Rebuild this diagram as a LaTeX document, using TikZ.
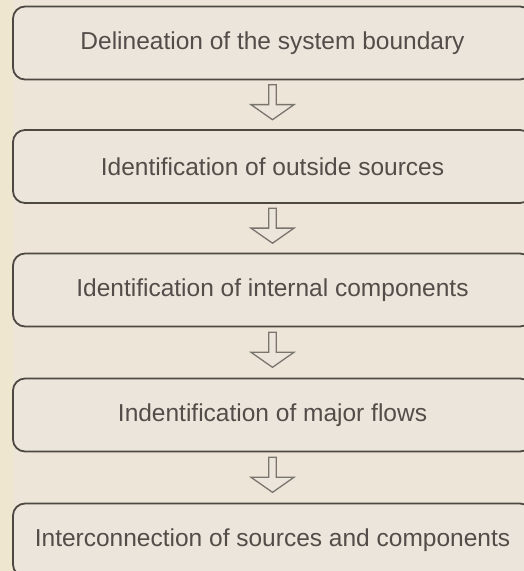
\documentclass[tikz,border=0pt]{standalone}
\usepackage{fontspec}
\setmainfont{Liberation Sans}
\usetikzlibrary{shapes.arrows}
\definecolor{bgbeige}{HTML}{ECE5D8}
\definecolor{stripbeige}{HTML}{EFE6D0}
\definecolor{boxfill}{HTML}{EBE5DB}
\definecolor{boxline}{HTML}{4E4843}
\definecolor{textgray}{HTML}{524D49}
\definecolor{arrowgray}{HTML}{7A746E}
\tikzset{
  stepbox/.style={draw=boxline, line width=1.8pt, fill=boxfill, rounded corners=12pt,
    minimum width=519pt, minimum height=73pt, inner sep=0pt, text=textgray,
    font=\fontsize{24.5}{28}\selectfont},
  flowarrow/.style={single arrow, draw=arrowgray, line width=1.3pt, fill=boxfill,
    shape border rotate=270, minimum width=43pt, minimum height=35pt,
    single arrow head extend=3pt, single arrow tip angle=110, inner sep=0pt}
}
\begin{document}
\begin{tikzpicture}[x=1pt, y=1pt]
  \useasboundingbox (0,0) rectangle (524,-571);
  \clip (0,0) rectangle (524,-571);
  \fill[bgbeige] (0,0) rectangle (524,-571);
  \fill[stripbeige] (0,0) rectangle (13,-571);

  \node [stepbox] (b1) at (272.5,-43) {Delineation of the system boundary};
  \node [stepbox] (b2) at (272.5,-166.5) {Identification of outside sources};
  \node [stepbox] (b3) at (272.5,-290) {Identification of internal components};
  \node [stepbox] (b4) at (272.5,-415) {Indentification of major flows};
  \node [stepbox] (b5) at (272.5,-540) {Interconnection of sources and components};

  \path (b1.south) -- (b2.north) node[pos=0.42, flowarrow] (a1) {};
  \path (b2.south) -- (b3.north) node[pos=0.42, flowarrow] (a2) {};
  \path (b3.south) -- (b4.north) node[pos=0.42, flowarrow] (a3) {};
  \path (b4.south) -- (b5.north) node[pos=0.42, flowarrow] (a4) {};
\end{tikzpicture}
\end{document}
